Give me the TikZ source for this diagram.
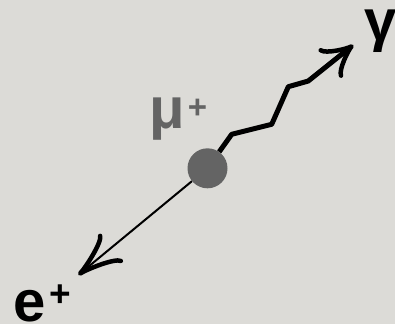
\documentclass[tikz,border=0pt]{standalone}
\usepackage{fontspec}
\setmainfont{Liberation Sans}
\usetikzlibrary{arrows.meta}
\definecolor{paper}{RGB}{220,219,215}
\definecolor{muongray}{RGB}{100,100,100}
% raised small plus sign: kern, raise, size
\newcommand{\upplus}[3]{\kern#1\raisebox{#2}{\fontsize{#3}{#3}\selectfont +}}
\tikzset{
  particle/.style={font=\fontsize{58}{58}\selectfont\bfseries, inner sep=0pt, anchor=base west},
  barb/.style={-{Classical TikZ Rightarrow[length=#1, width=37pt, line width=4.5pt]}},
}
\begin{document}
\begin{tikzpicture}[x=1pt, y=-1pt]
    % Hintergrund
    \fill[paper] (0,0) rectangle (395,324);
    \useasboundingbox (0,0) rectangle (395,324);
    % Myon
    \node[circle, fill=muongray, minimum size=40pt, inner sep=0pt] (mu) at (207.5,168.3) {};
    \node[particle, text=muongray] (mulabel) at (149.6,128.6) {μ\upplus{2.6pt}{10.5pt}{33}};
    % Positron
    \coordinate (etip) at (78.3,275);
    \draw[line width=2pt, barb=44pt] (mu) -- (etip);
    \node[particle] (elabel) at (13.5,321) {e\upplus{3.8pt}{15pt}{37}};
    % Photon
    \coordinate (gtip) at (353.3,45);
    \draw[line width=5pt, line join=round, barb=31pt] (mu) -- (231.7,134.3) -- (271.7,124.3)
        -- (288.3,86.7) -- (308.3,81) -- (gtip);
    \node[particle] (glabel) at (364,40.3) {γ};
\end{tikzpicture}
\end{document}
